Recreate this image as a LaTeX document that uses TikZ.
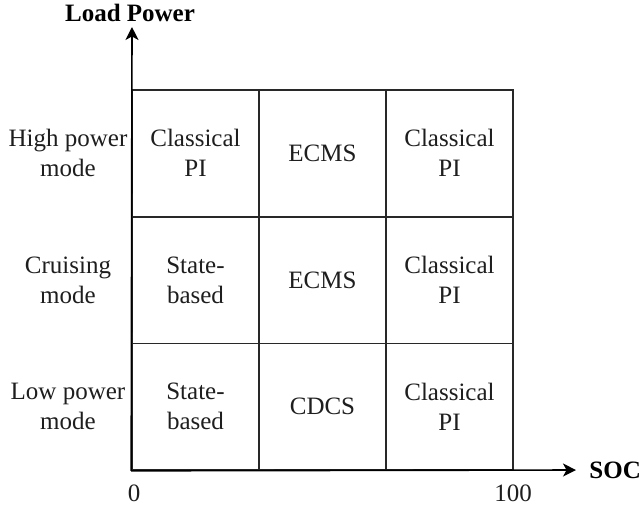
\documentclass[tikz,border=0pt]{standalone}
\usepackage{fontspec}
\setmainfont{Liberation Serif}
\definecolor{linegray}{RGB}{40,40,40}
\definecolor{textgray}{RGB}{30,30,30}
\usetikzlibrary{arrows.meta}
\tikzset{
  cell/.style={draw=linegray, line width=0.8pt, minimum width=63.5pt, minimum height=63.3pt,
    align=center, inner sep=0pt, text=textgray},
  rowlabel/.style={align=center, text=textgray},
  axislabel/.style={text=black, inner sep=0pt, font=\fontsize{12.5}{15}\selectfont\bfseries},
  axis/.style={draw=black, line width=0.8pt, -{Stealth[length=6.5pt,width=6.5pt,inset=1.8pt]}},
}
\begin{document}
\begin{tikzpicture}[x=0.5pt,y=-0.5pt, every node/.style={font=\fontsize{12.5}{15}\selectfont}]
  \useasboundingbox (0,0) rectangle (644,510);

  % cells
  \node[cell] (c11) at (195.5,153.3) {Classical\\PI};
  \node[cell] (c12) at (322.5,153.3) {ECMS};
  \node[cell] (c13) at (449.5,153.3) {Classical\\PI};
  \node[cell] (c21) at (195.5,280) {State-\\based};
  \node[cell] (c22) at (322.5,280) {ECMS};
  \node[cell] (c23) at (449.5,280) {Classical\\PI};
  \node[cell] (c31) at (195.5,406.7) {State-\\based};
  \node[cell] (c32) at (322.5,406.7) {CDCS};
  \node[cell] (c33) at (449.5,406.7) {Classical\\PI};

  % modes
  \node[rowlabel] (high) at (68,153.3) {High power\\mode};
  \node[rowlabel] (cruise) at (68,280) {Cruising\\mode};
  \node[rowlabel] (low) at (68,406.7) {Low power\\mode};

  % axes
  \coordinate (origin) at (c31.south west);
  \coordinate (ytip) at (132,27);
  \coordinate (xtip) at (576,470);
  \draw[axis] (origin) -- (ytip);
  \draw[axis] (origin) -- (xtip);
  \node[axislabel] (load) at (130,13) {Load Power};
  \node[axislabel, anchor=west] (soc) at (589,470) {SOC};
  \node[rowlabel] (zero) at (134,493) {0};
  \node[rowlabel] (hundred) at (513,493) {100};
\end{tikzpicture}
\end{document}
